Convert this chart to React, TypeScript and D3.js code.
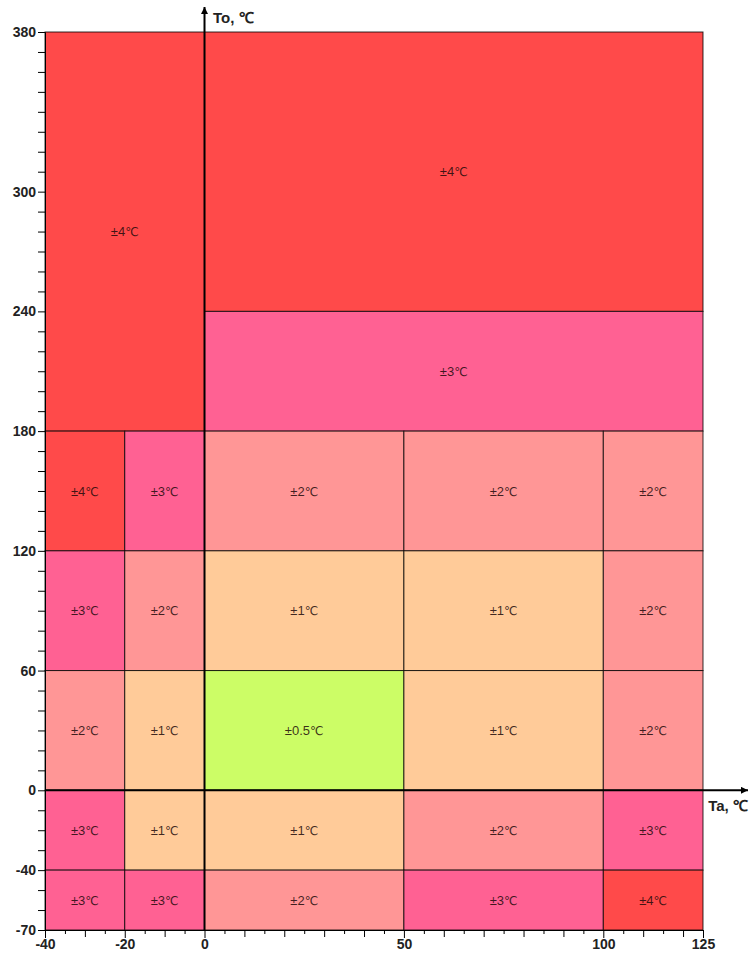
import React, {useEffect, useRef} from 'react';
import {select, scaleLinear, axisLeft, axisBottom, range} from 'd3';

// Ta (ambient) and To (object) breakpoints, deg C
const taTicks = [-40, -20, 0, 50, 100, 125];
const toTicks = [-70, -40, 0, 60, 120, 180, 240, 300, 380];

// lower grid: columns by Ta, rows by To
const gridCols = [[-40, -20], [-20, 0], [0, 50], [50, 100], [100, 125]];
const gridRows = [[120, 180], [60, 120], [0, 60], [-40, 0], [-70, -40]];
const gridAcc = [
    [4, 3, 2, 2, 2],
    [3, 2, 1, 1, 2],
    [2, 1, 0.5, 1, 2],
    [3, 1, 1, 2, 3],
    [3, 3, 2, 3, 4],
];

// big upper blocks
const blockTa = [[-40, 0], [0, 125], [0, 125]];
const blockTo = [[180, 380], [240, 380], [180, 240]];
const blockAcc = [4, 4, 3];

const accColor: {[k: string]: string} = {
    '0.5': '#ccfd66',
    '1': '#ffcb99',
    '2': '#ff9696',
    '3': '#ff6193',
    '4': '#ff4a4a',
};

const W = 753, H = 958;
const FONT = 'Liberation Sans, Arial, sans-serif';

const App = (): JSX.Element => {
    const svgRef = useRef(null);

    useEffect(() => {
        const svg = select(svgRef.current);
        svg.selectAll('*').remove();

        const x = scaleLinear().domain([-40, 125]).range([45, 703]);
        const y = scaleLinear().domain([-70, 380]).range([930, 32]);

        const cells: {ta: number[], to: number[], acc: number}[] = [];
        blockAcc.forEach((a, i) => cells.push({ta: blockTa[i], to: blockTo[i], acc: a}));
        gridRows.forEach((r, i) => gridCols.forEach((c, j) => cells.push({ta: c, to: r, acc: gridAcc[i][j]})));

        const g = svg.append('g');
        g.selectAll('rect.cell')
            .data(cells)
            .join('rect')
            .attr('class', 'cell')
            .attr('x', d => x(d.ta[0]))
            .attr('y', d => y(d.to[1]))
            .attr('width', d => x(d.ta[1]) - x(d.ta[0]))
            .attr('height', d => y(d.to[0]) - y(d.to[1]))
            .attr('fill', d => accColor[String(d.acc)])
            .attr('stroke', 'rgba(0,0,0,0.8)')
            .attr('stroke-width', 1);

        const lbl = g.selectAll('text.lbl')
            .data(cells)
            .join('text')
            .attr('class', 'lbl')
            .attr('x', d => x((d.ta[0] + d.ta[1]) / 2))
            .attr('y', d => y((d.to[0] + d.to[1]) / 2))
            .attr('dy', '0.35em')
            .attr('text-anchor', 'middle')
            .attr('font-family', FONT)
            .attr('font-size', 13)
            .attr('fill', 'rgba(30,10,10,0.85)');
        lbl.append('tspan').text(d => '±' + d.acc);
        lbl.append('tspan').attr('font-family', 'DejaVu Sans').attr('font-size', 12).text('℃');

        // left axis, tick every 10
        const yAxis = axisLeft(y)
            .tickValues(range(-70, 381, 10))
            .tickSize(7)
            .tickPadding(2)
            .tickFormat(d => (toTicks.includes(+d) ? String(d) : ''));
        const ya = svg.append('g').attr('transform', 'translate(45,0)').call(yAxis);

        // bottom axis, tick every 5, longer on tens
        const xAxis = axisBottom(x)
            .tickValues(range(-40, 126, 5))
            .tickSize(0)
            .tickPadding(9)
            .tickFormat(d => (taTicks.includes(+d) ? String(d) : ''));
        const xa = svg.append('g').attr('transform', 'translate(0,930)').call(xAxis);
        xa.selectAll('.tick line')
            .attr('y2', (d: any) => (taTicks.includes(d) ? 8 : d % 10 === 0 ? 7 : 4));

        [ya, xa].forEach(a => {
            a.select('.domain').attr('stroke', '#000');
            a.selectAll('.tick line').attr('stroke', '#000');
            a.selectAll('.tick text')
                .attr('font-family', FONT)
                .attr('font-size', 14)
                .attr('font-weight', 'bold')
                .attr('fill', '#222');
        });

        // Ta / To arrows through zero
        const defs = svg.append('defs');
        defs.append('marker')
            .attr('id', 'arr')
            .attr('viewBox', '0 0 10 10')
            .attr('refX', 10).attr('refY', 5)
            .attr('markerWidth', 7).attr('markerHeight', 7)
            .attr('markerUnits', 'userSpaceOnUse')
            .attr('orient', 'auto')
            .append('path').attr('d', 'M0,0L10,5L0,10Z').attr('fill', '#000');

        svg.append('line')
            .attr('x1', 45).attr('x2', 748)
            .attr('y1', y(0)).attr('y2', y(0))
            .attr('stroke', '#000').attr('stroke-width', 2)
            .attr('marker-end', 'url(#arr)');
        svg.append('line')
            .attr('x1', x(0)).attr('x2', x(0))
            .attr('y1', 930).attr('y2', 7)
            .attr('stroke', '#000').attr('stroke-width', 2)
            .attr('marker-end', 'url(#arr)');

        svg.append('text')
            .attr('x', 728).attr('y', 811)
            .attr('text-anchor', 'middle')
            .attr('font-family', FONT)
            .attr('font-size', 15).attr('font-weight', 'bold')
            .attr('fill', '#222')
            .text('Ta, ℃');
        svg.append('text')
            .attr('x', 213).attr('y', 23)
            .attr('font-family', FONT)
            .attr('font-size', 15).attr('font-weight', 'bold')
            .attr('fill', '#222')
            .text('To, ℃');
    }, []);

    return (
        <svg
            ref={svgRef}
            width={W}
            height={H}
            viewBox={`0 0 ${W} ${H}`}
            style={{position: 'absolute', left: 0, top: 0, background: '#fff'}}
        />
    );
};

export default App;
